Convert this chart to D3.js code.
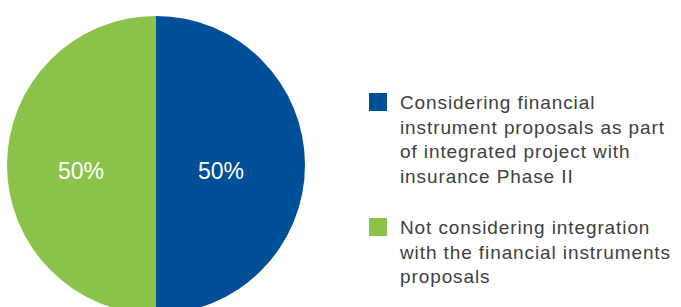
<!DOCTYPE html>
<html>
<head>
<meta charset="utf-8">
<script src="https://d3js.org/d3.v7.min.js"></script>
<style>
  body { margin: 0; background: #fff; }
  svg text { font-family: "Liberation Sans", Arial, sans-serif; }
</style>
</head>
<body>
<div id="chart"></div>
<script>
// slices, clockwise from 12 o'clock
var categories = [
    "Considering financial instrument proposals as part of integrated project with insurance Phase II",
    "Not considering integration with the financial instruments proposals"
];
var values = [50, 50];
var colors = ["#004f98", "#8bc34a"];
// legend text broken into lines as in the original
var legendLines = [
    ["Considering financial", "instrument proposals as part", "of integrated project with", "insurance Phase II"],
    ["Not considering integration", "with the financial instruments", "proposals"]
];

var width = 681, height = 307;
var cx = 156, cy = 165, radius = 149;

var svg = d3.select("#chart")
    .append("svg")
        .attr("width", width)
        .attr("height", height);

var pie = d3.pie().sort(null).value(function (d) { return d; });
var arcs = pie(values);

var arc = d3.arc().innerRadius(0).outerRadius(radius);
var labelArc = d3.arc().innerRadius(70).outerRadius(70);

var g = svg.append("g").attr("transform", "translate(" + cx + "," + cy + ")");

g.selectAll("path")
    .data(arcs)
    .enter()
    .append("path")
        .attr("d", arc)
        .attr("fill", function (d, i) { return colors[i]; });

g.selectAll("text.pct")
    .data(arcs)
    .enter()
    .append("text")
        .attr("class", "pct")
        .attr("transform", function (d) {
            var c = labelArc.centroid(d);
            return "translate(" + (c[0] - 5) + "," + (c[1] + 14) + ")";
        })
        .attr("text-anchor", "middle")
        .attr("fill", "#fff")
        .attr("font-size", 23)
        .text(function (d) { return d.value + "%"; });

// legend
var legendTop = [93, 218];
var legend = svg.selectAll("g.legend")
    .data(categories)
    .enter()
    .append("g")
        .attr("class", "legend")
        .attr("transform", function (d, i) { return "translate(369," + legendTop[i] + ")"; });

legend.append("rect")
    .attr("width", 18)
    .attr("height", 18)
    .attr("fill", function (d, i) { return colors[i]; });

legend.append("text")
    .attr("x", 31)
    .attr("y", 16)
    .attr("fill", "#404040")
    .attr("font-size", 19)
    .attr("letter-spacing", 0.9)
    .each(function (d, i) {
        d3.select(this).selectAll("tspan")
            .data(legendLines[i])
            .enter()
            .append("tspan")
                .attr("x", 31)
                .attr("dy", function (l, j) { return j === 0 ? 0 : 24.7; })
                .text(function (l) { return l; });
    });
</script>
</body>
</html>
